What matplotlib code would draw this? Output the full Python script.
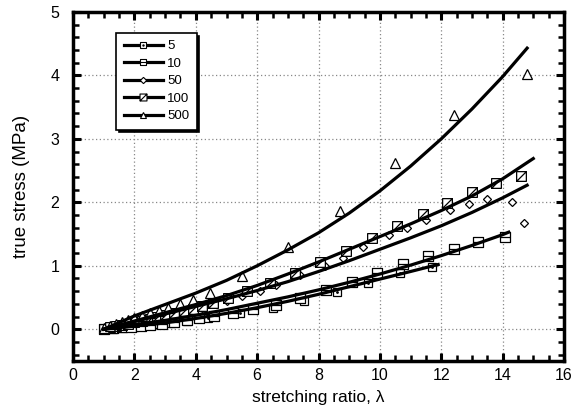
import numpy as np
import matplotlib.pyplot as plt
from matplotlib.path import Path
from matplotlib.lines import Line2D
from matplotlib.legend_handler import HandlerTuple
from matplotlib.ticker import MultipleLocator

plt.rcParams['font.family'] = ['Liberation Sans', 'DejaVu Sans']

# measured points (stretching ratio, true stress in MPa)
x5 = [1.0, 1.3, 1.6, 2.0, 2.4, 2.8, 3.2, 3.7, 4.4, 5.44, 6.5, 7.52, 8.6, 9.6, 10.65, 11.7]
y5 = [0.0, 0.01, 0.02, 0.04, 0.06, 0.08, 0.10, 0.13, 0.17, 0.25, 0.33, 0.44, 0.58, 0.73, 0.88, 0.98]

x10 = [1.0, 1.3, 1.6, 1.9, 2.2, 2.5, 2.9, 3.3, 3.7, 4.1, 4.6, 5.2, 5.85, 6.6, 7.4, 8.24, 9.09, 9.9,
       10.75, 11.57, 12.4, 13.2, 14.07]
y10 = [0.0, 0.02, 0.03, 0.04, 0.05, 0.07, 0.09, 0.12, 0.14, 0.17, 0.21, 0.26, 0.32, 0.38, 0.50, 0.62,
       0.74, 0.88, 1.03, 1.15, 1.27, 1.37, 1.45]

x50 = [1.0, 1.2, 1.5, 1.8, 2.1, 2.4, 2.7, 3.0, 3.4, 3.8, 4.2, 4.6, 5.0, 5.5, 6.1, 6.6, 7.4, 8.2, 8.8,
       9.45, 10.3, 10.9, 11.5, 12.3, 12.9, 13.5, 14.3, 14.7]
y50 = [0.01, 0.03, 0.06, 0.09, 0.12, 0.15, 0.18, 0.21, 0.25, 0.29, 0.34, 0.39, 0.45, 0.52, 0.61, 0.69,
       0.85, 1.0, 1.13, 1.30, 1.48, 1.60, 1.72, 1.88, 1.97, 2.05, 2.0, 1.67]

x100 = [1.0, 1.2, 1.4, 1.6, 1.8, 2.0, 2.25, 2.5, 2.75, 3.0, 3.3, 3.6, 3.9, 4.2, 4.56, 5.05, 5.67, 6.42,
        7.23, 8.05, 8.9, 9.74, 10.55, 11.4, 12.2, 13.0, 13.8, 14.6]
y100 = [0.01, 0.03, 0.05, 0.07, 0.09, 0.11, 0.13, 0.16, 0.19, 0.22, 0.25, 0.28, 0.32, 0.36, 0.42, 0.50,
        0.60, 0.73, 0.89, 1.06, 1.24, 1.43, 1.62, 1.81, 1.99, 2.17, 2.31, 2.42]

x500 = [1.0, 1.2, 1.4, 1.6, 1.8, 2.0, 2.25, 2.5, 2.8, 3.1, 3.5, 3.9, 4.45, 5.5, 7.0, 8.7, 10.5, 12.4, 14.8]
y500 = [0.02, 0.05, 0.08, 0.11, 0.14, 0.17, 0.21, 0.25, 0.29, 0.33, 0.39, 0.46, 0.57, 0.84, 1.29, 1.87,
        2.62, 3.37, 4.03]

# model curves
cx5 = [1, 2, 3, 4, 5, 6, 7, 8, 9, 10, 11, 11.9]
cy5 = [0.0, 0.05, 0.10, 0.17, 0.25, 0.34, 0.44, 0.55, 0.67, 0.79, 0.91, 1.02]
cx10 = [1, 2, 3, 4, 5, 6, 7, 8, 9, 10, 11, 12, 13, 14, 14.2]
cy10 = [0.0, 0.07, 0.14, 0.22, 0.31, 0.41, 0.51, 0.62, 0.74, 0.87, 1.01, 1.16, 1.32, 1.49, 1.53]
cx50 = [1, 2, 3, 4, 5, 6, 7, 8, 9, 10, 11, 12, 13, 14, 14.8]
cy50 = [0.0, 0.12, 0.24, 0.36, 0.48, 0.61, 0.75, 0.91, 1.08, 1.26, 1.44, 1.63, 1.84, 2.07, 2.27]
cx100 = [1, 2, 3, 4, 5, 6, 7, 8, 9, 10, 11, 12, 13, 14, 15]
cy100 = [0.0, 0.13, 0.26, 0.39, 0.53, 0.69, 0.87, 1.06, 1.26, 1.46, 1.66, 1.87, 2.10, 2.37, 2.69]
cx500 = [1, 2, 3, 4, 5, 6, 7, 8, 9, 10, 11, 12, 13, 14, 14.8]
cy500 = [0.0, 0.21, 0.39, 0.57, 0.77, 1.00, 1.25, 1.52, 1.83, 2.18, 2.57, 3.00, 3.47, 3.98, 4.43]

labels = ['5', '10', '50', '100', '500']

# custom markers: square with a middle bar, square with a slash
sq = [(-1, -1), (1, -1), (1, 1), (-1, 1), (-1, -1)]
sq_codes = [Path.MOVETO, Path.LINETO, Path.LINETO, Path.LINETO, Path.CLOSEPOLY]
sq_mid = Path(sq + [(-1, 0), (1, 0)], sq_codes + [Path.MOVETO, Path.LINETO])
sq_slash = Path(sq + [(-1, -1), (1, 1)], sq_codes + [Path.MOVETO, Path.LINETO])

fig = plt.figure(figsize=(5.85, 4.13), dpi=100)
ax = fig.add_axes([0.125, 0.126, 0.839, 0.845])

lw = 2.3
ms = 6
mk = dict(linestyle='none', mfc='white', mec='black', mew=0.9, zorder=3)

for cx, cy in [(cx5, cy5), (cx10, cy10), (cx50, cy50), (cx100, cy100), (cx500, cy500)]:
    ax.plot(cx, cy, color='black', lw=lw, zorder=4, solid_joinstyle='round')

ax.plot(x5, y5, marker='s', ms=ms, **mk)
ax.plot(x5, y5, marker='.', ms=2, linestyle='none', color='black', zorder=3)
ax.plot(x10, y10, marker=sq_mid, ms=ms + 1, **mk)
ax.plot(x50, y50, marker='D', ms=4.5, **mk)
ax.plot(x100, y100, marker=sq_slash, ms=ms + 1, **mk)
ax.plot(x500, y500, marker='^', ms=ms + 1, **mk)

ax.set_xlim(0, 16)
ax.set_ylim(-0.5, 5)
ax.xaxis.set_major_locator(MultipleLocator(2))
ax.xaxis.set_minor_locator(MultipleLocator(0.5))
ax.yaxis.set_major_locator(MultipleLocator(1))
ax.yaxis.set_minor_locator(MultipleLocator(0.2))
ax.grid(True, which='major', linestyle=(0, (1, 2)), color='#888888', lw=0.9)

ax.tick_params(which='both', direction='in', top=True, right=True, labelsize=11.5)
ax.tick_params(which='major', length=6, width=2.2)
ax.tick_params(which='minor', length=4, width=1.8)
ax.tick_params(axis='x', which='major', pad=5)
ax.tick_params(axis='y', which='major', pad=10)
for s in ax.spines.values():
    s.set_linewidth(2.5)

ax.set_xlabel('stretching ratio, λ', fontsize=12.5, labelpad=5)
ax.set_ylabel('true stress (MPa)', fontsize=13.5)
ax.yaxis.set_label_coords(-0.088, 0.5)

# legend
lk = dict(color='black', lw=2.3, mfc='white', mec='black', mew=0.8)
h5 = (Line2D([], [], marker='s', ms=4.5, **lk),
      Line2D([], [], marker='.', ms=1.5, linestyle='none', color='black'))
h10 = Line2D([], [], marker=sq_mid, ms=5, **lk)
h50 = Line2D([], [], marker='D', ms=3.2, **lk)
h100 = Line2D([], [], marker=sq_slash, ms=5, **lk)
h500 = Line2D([], [], marker='^', ms=5, **lk)
leg = ax.legend([h5, h10, h50, h100, h500], labels, loc='upper left',
                bbox_to_anchor=(0.088, 0.94), borderaxespad=0, fontsize=9.5,
                handlelength=3.0, numpoints=1,
                handler_map={tuple: HandlerTuple(ndivide=1, pad=0)},
                fancybox=False, shadow={'color': 'black', 'alpha': 1},
                borderpad=0.55, labelspacing=0.4, handletextpad=0.3, framealpha=1)
leg.get_frame().set_edgecolor('black')
leg.get_frame().set_linewidth(1.2)

fig.savefig('out.png', dpi=100)
